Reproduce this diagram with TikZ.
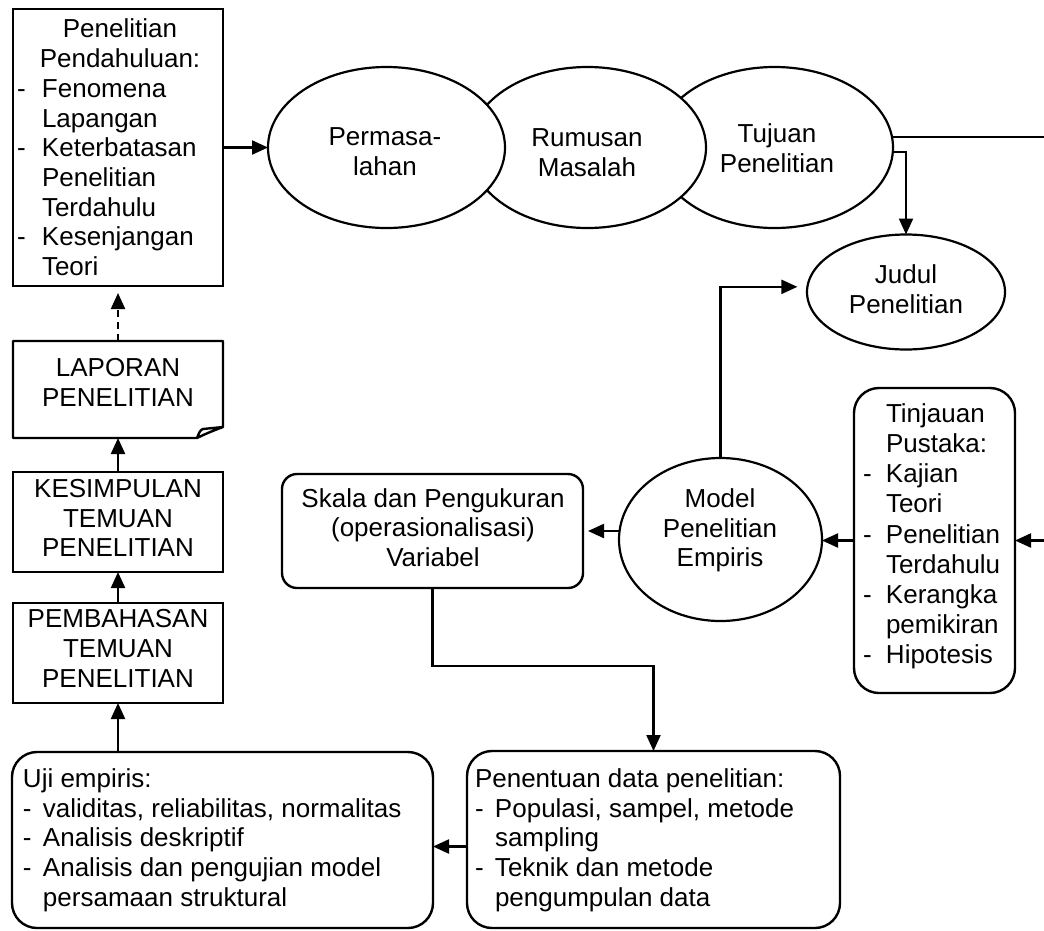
\documentclass[tikz,border=0pt]{standalone}
\usepackage{fontspec}
\setmainfont{Liberation Sans}
\usetikzlibrary{arrows.meta,shapes.geometric}
% list helpers: a dash in a fixed-width slot, and the matching indent
\newcommand{\itm}[1][20pt]{\makebox[#1][l]{-}}
\newcommand{\ind}[1][20pt]{\hspace*{#1}}
% fixes the height of the first line of a left-aligned block
\newcommand{\fst}{\rule{0pt}{20pt}}
\begin{document}
\begin{tikzpicture}[x=1pt,y=-1pt,
  every node/.style={inner sep=0pt, outer sep=0pt},
  frame/.style={draw, line width=2.4pt, rectangle},
  rframe/.style={frame, rounded corners=#1},
  oval/.style={draw, line width=2.2pt, ellipse, fill=white},
  txt/.style={font=\fontsize{26pt}{29.7pt}\selectfont, align=center},
  ltxt/.style={font=\fontsize{26pt}{29.7pt}\selectfont, align=left, anchor=north west},
  link/.style={line width=2.2pt, -{Triangle[length=16pt,width=14pt]}},
]
\fill[white] (0,0) rectangle (1044,930);
\useasboundingbox (0,0) rectangle (1044,930);

% ---- top row: preliminary study and the three overlapping ovals
\node[frame, minimum width=210pt, minimum height=277pt] (pp) at (118,147.5) {};
\node[oval, minimum width=237pt, minimum height=161pt] (tuj) at (774.5,147.5) {};
\node[oval, minimum width=237pt, minimum height=161pt] (rum) at (587.5,147.5) {};
\node[oval, minimum width=237pt, minimum height=161pt] (per) at (386.5,147.5) {};
\node[oval, minimum width=198pt, minimum height=115pt] (jud) at (906,292) {};

\node[txt] (ppT) at (120,43) {Penelitian\\Pendahuluan:};
\node[ltxt] (ppL) at (17,77.3) {\fst\itm[25pt]Fenomena\\\ind[25pt]Lapangan\\
  \itm[25pt]Keterbatasan\\\ind[25pt]Penelitian\\\ind[25pt]Terdahulu\\
  \itm[25pt]Kesenjangan\\\ind[25pt]Teori};
\node[txt] (perT) at (385,152) {Permasa-\\lahan};
\node[txt] (rumT) at (587,152.5) {Rumusan\\Masalah};
\node[txt] (tujT) at (777,148) {Tujuan\\Penelitian};
\node[txt] (judT) at (906,289.5) {Judul\\Penelitian};

% ---- left column: report, conclusions, discussion
\node[minimum width=210pt, minimum height=97pt] (lap) at (118,389.5) {};
\draw[line width=2.4pt, line join=round]
  (197,438) -- (13,438) -- (13,341) -- (223,341) -- (223,427)
  .. controls (212,431) and (203,435) .. (197,438)
  .. controls (199,433) and (200,430) .. (203,429) -- (223,427);
\node[txt] (lapT) at (118,382.5) {LAPORAN\\PENELITIAN};
\node[frame, minimum width=210pt, minimum height=100pt] (kes) at (118,522) {};
\node[txt] (kesT) at (118,518) {KESIMPULAN\\TEMUAN\\PENELITIAN};
\node[frame, minimum width=210pt, minimum height=100pt] (pem) at (118,653) {};
\node[txt] (pemT) at (118,648.5) {PEMBAHASAN\\TEMUAN\\PENELITIAN};

% ---- middle row: measurement, empirical model, literature review
\node[rframe=15pt, minimum width=301pt, minimum height=114pt] (ska) at (432.5,531) {};
\node[txt] (skaT) at (433,527.5) {Skala dan Pengukuran\\(operasionalisasi)\\Variabel};
\node[oval, minimum width=203pt, minimum height=163pt] (mod) at (720.5,539.5) {};
\node[txt] (modT) at (720,530.5) {Model\\Penelitian\\Empiris};
\node[rframe=25pt, minimum width=161pt, minimum height=305pt] (tin) at (934.5,540.5) {};
\node[ltxt, font=\fontsize{26pt}{30.2pt}\selectfont] (tinT) at (863,402.3)
  {\fst\ind[23pt]Tinjauan\\\ind[23pt]Pustaka:\\\itm[23pt]Kajian\\\ind[23pt]Teori\\
   \itm[23pt]Penelitian\\\ind[23pt]Terdahulu\\\itm[23pt]Kerangka\\\ind[23pt]pemikiran\\
   \itm[23pt]Hipotesis};

% ---- bottom row: empirical tests and research data
\node[rframe=25pt, minimum width=421pt, minimum height=176pt] (uji) at (222.5,840) {};
\node[ltxt] (ujiT) at (23,767.3) {\fst Uji empiris:\\\itm validitas, reliabilitas, normalitas\\
  \itm Analisis deskriptif\\\itm Analisis dan pengujian model\\\ind persamaan struktural};
\node[rframe=25pt, minimum width=373pt, minimum height=177pt] (pen) at (653.5,839.5) {};
\node[ltxt] (penT) at (475,767.3) {\fst Penentuan data penelitian:\\\itm Populasi, sampel, metode\\
  \ind sampling\\\itm Teknik dan metode\\\ind pengumpulan data};

% ---- connectors
\coordinate (rail) at (1056,0);
\draw[link] (pp.east) -- (per.west);
\draw[link] (tuj.-2) -| (jud.north);
\draw[link] (tuj.5) -- (tuj.5 -| rail) |- (tin.east);
\draw[link, shorten >=10pt] (mod.north) |- (jud.177);
\draw[link] (tin.west) -- (tin.west -| mod.east);
\draw[link, shorten >=5pt] (mod.west |- ska.east) -- (ska.east);
\draw[link] (ska.south) -- ++(0,78) -| (pen.north);
\draw[link] ([yshift=-7pt]pen.west) -- ([yshift=-7pt]pen.west -| uji.east);
\draw[link] (pem.south |- uji.north) -- (pem.south);
\draw[link] (pem.north) -- (kes.south);
\draw[link] (kes.north) -- (lap.south);
\draw[link, dash pattern=on 7pt off 5pt, shorten >=7pt] (lap.north) -- (pp.south);
\end{tikzpicture}
\end{document}
